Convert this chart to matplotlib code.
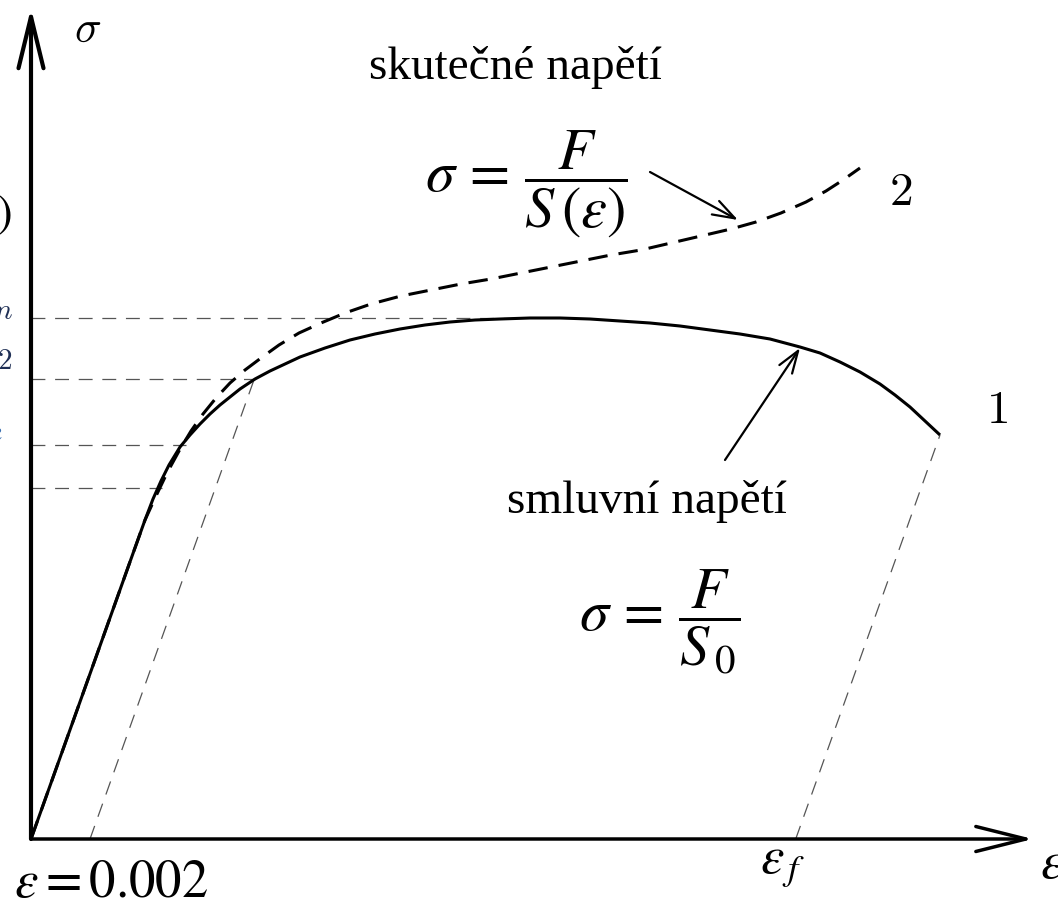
import matplotlib
matplotlib.use("Agg")
import matplotlib.pyplot as plt

plt.rcParams["lines.scale_dashes"] = False
plt.rcParams["mathtext.fontset"] = "stix"
plt.rcParams["font.family"] = ["Liberation Serif", "DejaVu Serif"]

# Nominal (engineering) stress-strain curve, arbitrary units
eng_strain = [0, 60, 100, 114, 122, 130, 138, 149, 159, 169, 179, 189, 199, 209,
              224, 239, 254, 269, 294, 319, 344, 369, 394, 419, 444, 469, 499,
              529, 559, 589, 619, 649, 679, 709, 739, 769, 789, 809, 829, 849,
              864, 879, 894, 909]
eng_stress = [0, 168, 280, 319, 340, 358, 374, 392, 404, 415, 425, 434, 442, 450,
              460, 468, 475, 482, 491, 499, 505, 510, 514, 517, 519, 520, 521,
              521, 520, 518, 516, 513, 509, 505, 500, 492, 486, 477, 467, 455,
              444, 432, 418, 404]

# True stress-strain curve
true_strain = [0, 100, 114, 125, 136, 148, 160, 172, 185, 199, 214, 230, 248,
               268, 290, 314, 340, 370, 400, 430, 460, 490, 520, 550, 580, 610,
               640, 670, 700, 725, 750, 775, 795, 812, 829]
true_stress = [0, 280, 319, 343, 366, 388, 408, 425, 441, 456, 469, 481, 494,
               506, 516, 526, 535, 543, 549, 555, 560, 566, 572, 578, 584, 589,
               596, 603, 610, 617, 626, 637, 648, 659, 671]

elastic_modulus = 2.8      # slope of the elastic part
offset_strain = 59         # 0.2 % plastic offset
guide_levels = [521, 460, 394, 351]   # R_m, R_p0.2, R_e, limit of proportionality
guide_ends = [489, 224, 155, 131]

fig = plt.figure(figsize=(10.58, 9.08), dpi=100)
ax = fig.add_axes([0, 0, 1, 1])
ax.set_xlim(-31, 1027)
ax.set_ylim(-69, 839)
ax.axis("off")

thin = dict(color="#555555", lw=0.9, dashes=(10, 7))

# horizontal guide lines to the stress axis
for level, end in zip(guide_levels, guide_ends):
    ax.plot([0, end], [level, level], **thin)

# 0.2 % offset line
rp = guide_levels[1]
ax.plot([offset_strain, offset_strain + rp / elastic_modulus], [0, rp], **thin)

# elastic unloading from the fracture point
e_last, s_last = eng_strain[-1], eng_stress[-1]
foot = e_last - s_last / elastic_modulus
ax.plot([foot, e_last], [0, s_last], **thin)

# curves
ax.plot(eng_strain, eng_stress, color="black", lw=2.2, solid_capstyle="butt",
        solid_joinstyle="round")
ax.plot(true_strain, true_stress, color="black", lw=2.2, dashes=(14, 8),
        dash_capstyle="butt")

# axes with open arrow heads
ax.annotate("", xy=(0, 831), xytext=(0, 0),
            arrowprops=dict(arrowstyle="->,head_length=37,head_width=9",
                            mutation_scale=1, lw=3, color="black",
                            shrinkA=0, shrinkB=0))
ax.annotate("", xy=(1002, 0), xytext=(0, 0),
            arrowprops=dict(arrowstyle="->,head_length=36,head_width=9",
                            mutation_scale=1, lw=2.5, color="black",
                            shrinkA=0, shrinkB=0))

# pointer arrows
arrow_style = dict(arrowstyle="->,head_length=16,head_width=5.5",
                   mutation_scale=1, lw=1.6, color="black",
                   shrinkA=0, shrinkB=0)
ax.annotate("", xy=(707, 619), xytext=(619, 667), arrowprops=arrow_style)
ax.annotate("", xy=(769, 491), xytext=(694, 379), arrowprops=arrow_style)

# labels
ax.text(484, 760, "skutečné napětí", fontsize=34, ha="center", va="baseline")
ax.text(495, 655, r"$\sigma\, =\, \dfrac{F}{S\,\left(\varepsilon\right)}$",
        fontsize=42, ha="center", va="center")
ax.text(616, 326, "smluvní napětí", fontsize=34, ha="center", va="baseline")
ax.text(629, 217, r"$\sigma\, =\, \dfrac{\;F\;}{S_{\,0}}$", fontsize=42,
        ha="center", va="center")

ax.text(966, 427, r"$1$", fontsize=34, ha="center", va="center", math_fontfamily="cm")
ax.text(870, 645, r"$2$", fontsize=34, ha="center", va="center", math_fontfamily="cm")
ax.text(57, 808, r"$\sigma$", fontsize=32, ha="center", va="center", math_fontfamily="cm")

ax.text(80, -58, r"$\varepsilon = 0.002$", fontsize=38, ha="center", va="baseline")
ax.text(729, -34, r"$\varepsilon_{\,f}$", fontsize=38, ha="left", va="baseline")
ax.text(1009, -39, r"$\varepsilon$", fontsize=38, ha="left", va="baseline")

# stress-axis labels (partly outside the figure)
ax.text(-19, 624, r"$\sigma\left(\varepsilon\right)$", fontsize=34,
        ha="right", va="center")
ax.text(-18, 526, r"$R_m$", fontsize=30, ha="right", va="baseline",
        math_fontfamily="cm", color="#1f2f55")
ax.text(-18, 476, r"$R_{p0.2}$", fontsize=30, ha="right", va="baseline",
        math_fontfamily="cm", color="#1f2f55")
ax.text(-28, 404, r"$R_e$", fontsize=30, ha="right", va="baseline",
        math_fontfamily="cm", color="#3a6fb0")

fig.savefig("out.png", dpi=100)
